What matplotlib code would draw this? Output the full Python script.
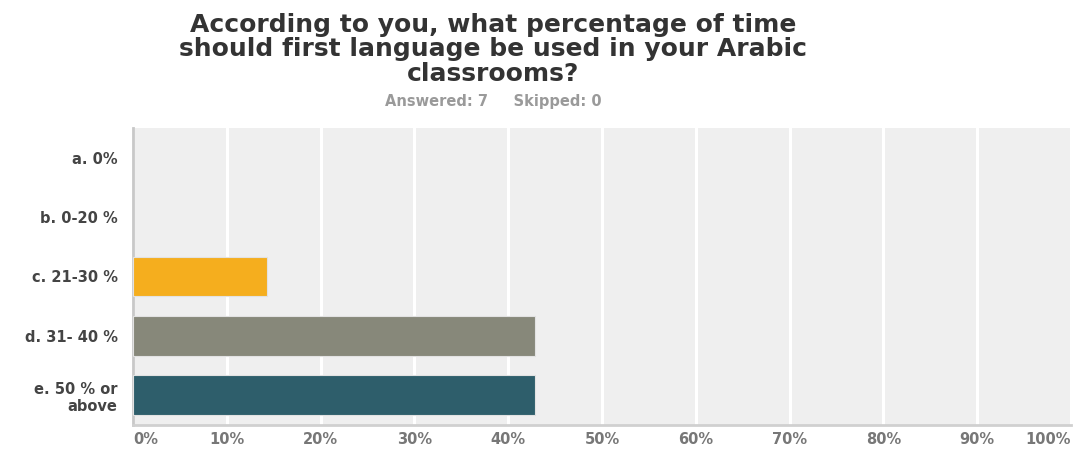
import matplotlib.pyplot as plt
import numpy as np

# survey answers (share of 7 respondents)
categories = ["a. 0%", "b. 0-20 %", "c. 21-30 %", "d. 31- 40 %", "e. 50 % or\nabove"]
shares = [0.0, 0.0, 14.29, 42.86, 42.86]
colors = ["#5b9bd5", "#d9534f", "#f5ae1e", "#87887a", "#2e5e6b"]
ticks = [0, 10, 20, 30, 40, 50, 60, 70, 80, 90, 100]
tick_labels = [f"{t}%" for t in ticks]

plt.rcParams["font.family"] = ["DejaVu Sans"]

fig = plt.figure(figsize=(10.74, 4.5), dpi=100)
ax = fig.add_axes([0.1238, 0.0556, 0.8734, 0.66])
ax.set_facecolor("#efefef")

y = np.arange(len(categories))
edge_widths = [0.8 if v > 0 else 0 for v in shares]
ax.barh(y, shares, height=0.67, color=colors, edgecolor="#e2e2e2",
        linewidth=edge_widths, zorder=3)

ax.set_xlim(0, 100)
ax.set_ylim(len(categories) - 0.5, -0.5)
ax.set_xticks(ticks)
ax.grid(axis="x", color="white", linewidth=2.2, zorder=1)
ax.set_axisbelow(True)

ax.set_yticks(y)
ax.set_yticklabels(categories, fontsize=10.5, fontweight="bold", color="#444444", linespacing=1.15)
ax.tick_params(axis="y", length=0, pad=11)

ax.set_xticklabels(tick_labels, fontsize=10.5, fontweight="bold", color="#777777")
ax.tick_params(axis="x", length=0, pad=5)
labels = ax.get_xticklabels()
labels[0].set_horizontalalignment("left")
labels[-1].set_horizontalalignment("right")

for side in ["top", "right"]:
    ax.spines[side].set_visible(False)
ax.spines["left"].set_color("#c8c8c8")
ax.spines["left"].set_linewidth(2)
ax.spines["bottom"].set_color("#d0d0d0")
ax.spines["bottom"].set_linewidth(2)

fig.text(0.459, 0.972,
         "According to you, what percentage of time\nshould first language be used in your Arabic\nclassrooms?",
         ha="center", va="top", fontsize=18, fontweight="bold", color="#333333", linespacing=1.04)
fig.text(0.459, 0.775, "Answered: 7     Skipped: 0", ha="center", va="center",
         fontsize=10.5, fontweight="bold", color="#9a9a9a")

fig.savefig("out.png", dpi=100)
